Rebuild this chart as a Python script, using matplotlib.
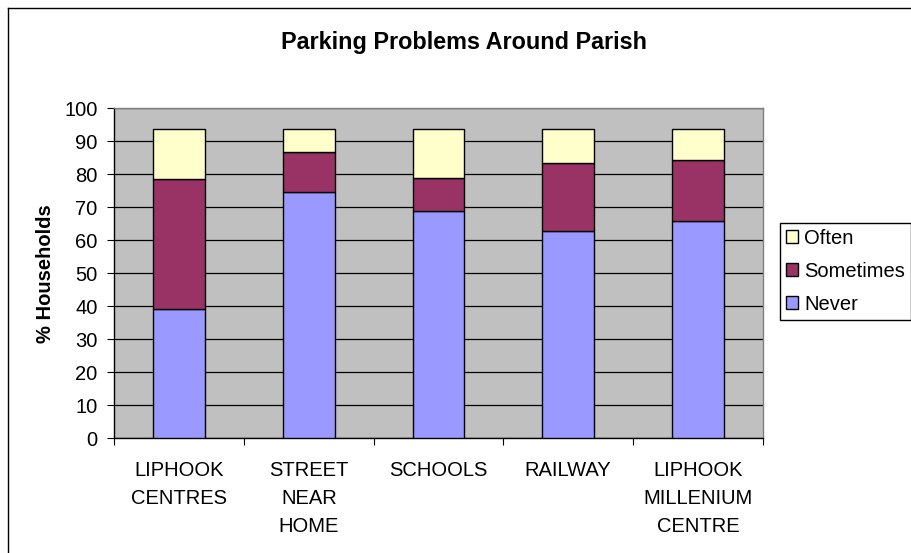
import matplotlib
matplotlib.use("Agg")
import matplotlib.pyplot as plt
from matplotlib.patches import Patch
from matplotlib.lines import Line2D
import numpy as np

categories = ["LIPHOOK\nCENTRES", "STREET\nNEAR\nHOME", "SCHOOLS", "RAILWAY", "LIPHOOK\nMILLENIUM\nCENTRE"]
never = [39.2, 74.6, 68.8, 62.9, 65.9]
sometimes = [39.4, 12.3, 10.2, 20.5, 18.5]
often = [15.0, 6.7, 14.6, 10.2, 9.2]
yticks = list(range(0, 101, 10))

plt.rcParams['font.family'] = ['Liberation Sans', 'DejaVu Sans']

W, H = 911, 553
fig = plt.figure(figsize=(W / 100, H / 100), dpi=100)
fig.patch.set_facecolor('white')
# outer chart border (left and top visible; right/bottom lie outside the image)
fig.lines.append(Line2D([7.5 / W, 7.5 / W], [0, 1 - 7.5 / H], transform=fig.transFigure,
                        color='black', linewidth=1.0))
fig.lines.append(Line2D([7.5 / W, 1], [1 - 7.5 / H, 1 - 7.5 / H], transform=fig.transFigure,
                        color='black', linewidth=1.0))

left, right, top, bottom = 114.3, 762.7, 108.3, 438.3
ax = fig.add_axes([left / W, (H - bottom) / H, (right - left) / W, (bottom - top) / H])
ax.set_facecolor('#C0C0C0')

x = np.arange(len(categories))
never_a = np.array(never)
some_a = np.array(sometimes)
often_a = np.array(often)
bw = 0.4
ax.bar(x, never_a, bw, color='#9999FF', edgecolor='black', linewidth=1.0, label='Never', zorder=3)
ax.bar(x, some_a, bw, bottom=never_a, color='#993366', edgecolor='black', linewidth=1.0, label='Sometimes', zorder=3)
ax.bar(x, often_a, bw, bottom=never_a + some_a, color='#FFFFCC', edgecolor='black', linewidth=1.0, label='Often', zorder=3)

ax.set_ylim(0, 100)
ax.set_xlim(-0.5, len(categories) - 0.5)
ax.set_yticks(yticks)
ax.set_yticklabels([str(v) for v in yticks], fontsize=14.5)
ax.yaxis.grid(True, color='black', linewidth=0.9, zorder=0)
ax.set_axisbelow(True)

ax.set_xticks(np.arange(-0.5, len(categories), 1.0))
ax.set_xticklabels([])
ax.set_xticks(x, minor=True)
ax.set_xticklabels(categories, minor=True, fontsize=14.5, linespacing=1.6, multialignment='center')
ax.tick_params(axis='x', which='minor', length=0, pad=16)
ax.tick_params(axis='x', which='major', length=5, direction='out', color='black')
ax.tick_params(axis='y', length=5, direction='out', color='black', pad=7)

for s in ['top', 'right']:
    ax.spines[s].set_color('#808080')
    ax.spines[s].set_linewidth(1.0)
for s in ['left', 'bottom']:
    ax.spines[s].set_color('black')
    ax.spines[s].set_linewidth(1.0)

ax.set_ylabel('% Households', fontsize=14.5, fontweight='bold', labelpad=7)
fig.text(464 / W, 1 - 42 / H, 'Parking Problems Around Parish', ha='center', va='center',
         fontsize=16.8, fontweight='bold')

handles = [Patch(facecolor='#FFFFCC', edgecolor='black', label='Often'),
           Patch(facecolor='#993366', edgecolor='black', label='Sometimes'),
           Patch(facecolor='#9999FF', edgecolor='black', label='Never')]
leg = fig.legend(handles=handles, loc='upper left', bbox_to_anchor=(780 / W, 1 - 222.7 / H),
                 fontsize=14.5, frameon=True, fancybox=False, edgecolor='black', framealpha=1,
                 handlelength=0.6, handleheight=0.6, handletextpad=0.3, labelspacing=0.7,
                 borderpad=0.3, borderaxespad=0)
leg.get_frame().set_linewidth(1.0)

fig.savefig('out.png', dpi=100)
